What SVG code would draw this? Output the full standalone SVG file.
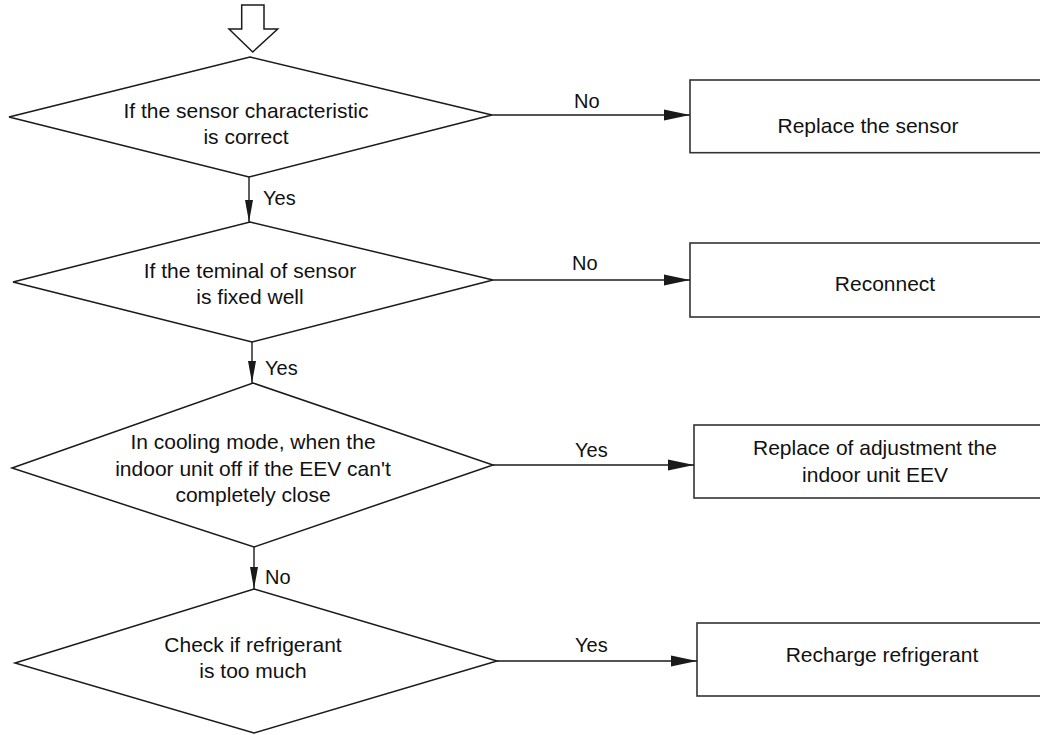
<svg xmlns="http://www.w3.org/2000/svg" width="1040" height="735" viewBox="0 0 1040 735">
<style>
.shape{fill:#fff;stroke:#1a1a1a;stroke-width:1.5}
.box{fill:#fff;stroke:#333;stroke-width:1.6}
.conn{fill:none;stroke:#1a1a1a;stroke-width:1.4}
text{font-family:"Liberation Sans",Arial,sans-serif;fill:#111}
.t{font-size:21px;text-anchor:middle}
.lbl{font-size:20px}
</style>
<defs>
<marker id="ah" markerUnits="userSpaceOnUse" markerWidth="26" markerHeight="12" refX="26" refY="6" orient="auto">
<path d="M0,0.5 L26,6 L0,11.5 Z" fill="#1a1a1a"/>
</marker>
<marker id="av" markerUnits="userSpaceOnUse" markerWidth="22" markerHeight="10" refX="22" refY="5" orient="auto">
<path d="M0,1 L22,5 L0,9 Z" fill="#1a1a1a"/>
</marker>
</defs>
<g id="start">
<polygon class="shape" points="241.7,5 264,5 264,29 277.7,29 252.7,52 229,29 241.7,29"/>
</g>
<g id="d1">
<polygon class="shape" points="250,57 492,115 249,177 9,117"/>
<text class="t" x="246" y="118">If the sensor characteristic</text>
<text class="t" x="246" y="144">is correct</text>
</g>
<g id="d2">
<polygon class="shape" points="250,222 493,280 252,342 13,282"/>
<text class="t" x="250" y="278">If the teminal of sensor</text>
<text class="t" x="250" y="304">is fixed well</text>
</g>
<g id="d3">
<polygon class="shape" points="253,383 493,465 254,547 12,468"/>
<text class="t" x="253" y="449">In cooling mode, when the</text>
<text class="t" x="253" y="476">indoor unit off if the EEV can't</text>
<text class="t" x="253" y="502">completely close</text>
</g>
<g id="d4">
<polygon class="shape" points="254,589 497,661 254,733 15,663"/>
<text class="t" x="253" y="652">Check if refrigerant</text>
<text class="t" x="253" y="678">is too much</text>
</g>
<g id="b1">
<rect class="box" x="690" y="80" width="360" height="72.7"/>
<text class="t" x="868" y="133">Replace the sensor</text>
</g>
<g id="b2">
<rect class="box" x="690" y="243" width="360" height="74"/>
<text class="t" x="885" y="291">Reconnect</text>
</g>
<g id="b3">
<rect class="box" x="694" y="425" width="360" height="73"/>
<text class="t" x="875" y="455">Replace of adjustment the</text>
<text class="t" x="875" y="482">indoor unit EEV</text>
</g>
<g id="b4">
<rect class="box" x="697" y="623" width="360" height="73"/>
<text class="t" x="882" y="662">Recharge refrigerant</text>
</g>
<g id="connectors">
<line class="conn" x1="249" y1="177" x2="249" y2="222" marker-end="url(#av)"/>
<line class="conn" x1="252" y1="342" x2="252" y2="383" marker-end="url(#av)"/>
<line class="conn" x1="254" y1="547" x2="254" y2="589" marker-end="url(#av)"/>
<line class="conn" x1="492" y1="115" x2="690" y2="115" marker-end="url(#ah)"/>
<line class="conn" x1="493" y1="280" x2="690" y2="280" marker-end="url(#ah)"/>
<line class="conn" x1="493" y1="465" x2="694" y2="465" marker-end="url(#ah)"/>
<line class="conn" x1="497" y1="661" x2="697" y2="661" marker-end="url(#ah)"/>
<text class="lbl" x="263" y="205">Yes</text>
<text class="lbl" x="265" y="375">Yes</text>
<text class="lbl" x="265" y="584">No</text>
<text class="lbl" x="574" y="108">No</text>
<text class="lbl" x="572" y="270">No</text>
<text class="lbl" x="575" y="457">Yes</text>
<text class="lbl" x="575" y="652">Yes</text>
</g>
</svg>
